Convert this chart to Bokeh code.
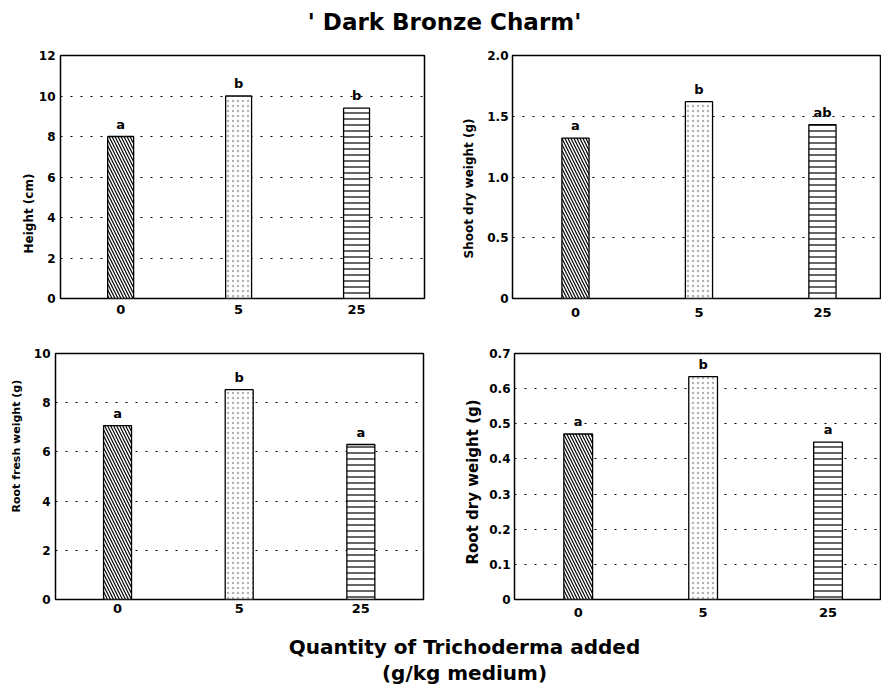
from bokeh.plotting import figure
from bokeh.layouts import column, row
from bokeh.models import Range1d, FixedTicker, Title, ColumnDataSource
from bokeh.core.properties import value, field
from bokeh.embed import file_html
from bokeh.resources import INLINE

# ---------------- data ----------------
TITLE = "' Dark Bronze Charm'"
XLABEL_1 = "Quantity of Trichoderma added"
XLABEL_2 = "(g/kg medium)"
CATEGORIES = ["0", "5", "25"]

HEIGHT_CM = [8.0, 10.0, 9.4]
HEIGHT_LETTERS = ["a", "b", "b"]
HEIGHT_TICKS = [0, 2, 4, 6, 8, 10, 12]
HEIGHT_TICK_LABELS = ["0", "2", "4", "6", "8", "10", "12"]

SHOOT_DW = [1.32, 1.62, 1.43]
SHOOT_LETTERS = ["a", "b", "ab"]
SHOOT_TICKS = [0, 0.5, 1.0, 1.5, 2.0]
SHOOT_TICK_LABELS = ["0", "0.5", "1.0", "1.5", "2.0"]

ROOT_FW = [7.07, 8.53, 6.30]
ROOT_FW_LETTERS = ["a", "b", "a"]
ROOT_FW_TICKS = [0, 2, 4, 6, 8, 10]
ROOT_FW_TICK_LABELS = ["0", "2", "4", "6", "8", "10"]

ROOT_DW = [0.471, 0.634, 0.448]
ROOT_DW_LETTERS = ["a", "b", "a"]
ROOT_DW_TICKS = [0, 0.1, 0.2, 0.3, 0.4, 0.5, 0.6, 0.7]
ROOT_DW_TICK_LABELS = ["0", "0.1", "0.2", "0.3", "0.4", "0.5", "0.6", "0.7"]

# ---------------- styles ----------------
FONT = "DejaVu Sans"
HATCHES = ["\\", ".", "-"]
HATCH_COLORS = ["black", "#b4b4b4", "black"]
HATCH_SCALES = [6, 5, 6]
HATCH_WEIGHTS = [1.2, 0.9, 1.2]
PAGE_W = 881


def panel(vals, letters, ylabel, ticks, tick_labels, x_end, bar_w,
          w, h, bl, br, bt, bb, xstand, ystand, lab_size, lab_offset, lab_stand):
    p = figure(width=w, height=h, min_border_left=bl, min_border_right=br,
               min_border_top=bt, min_border_bottom=bb, title=None,
               x_range=Range1d(0.49, x_end), y_range=Range1d(ticks[0], ticks[-1]),
               output_backend="svg", toolbar_location=None, tools="")
    xs = list(range(1, len(CATEGORIES) + 1))
    src = ColumnDataSource(dict(x=xs, top=vals, letter=letters, hatch=HATCHES,
                                hcolor=HATCH_COLORS, hscale=HATCH_SCALES,
                                hweight=HATCH_WEIGHTS))
    p.vbar(x="x", top="top", bottom=0, width=bar_w, source=src,
           fill_color="white", line_color="black", line_width=1.3,
           hatch_pattern=field("hatch"), hatch_color=field("hcolor"),
           hatch_scale=field("hscale"), hatch_weight=field("hweight"))
    p.text(x="x", y="top", text="letter", source=src, text_align="center",
           text_baseline="bottom", y_offset=-5, text_font=value(FONT),
           text_font_style="bold", text_font_size="13px", text_color="black")

    p.xaxis.ticker = FixedTicker(ticks=xs)
    p.xaxis.major_label_overrides = {x: c for x, c in zip(xs, CATEGORIES)}
    p.xaxis.major_label_standoff = xstand
    p.xaxis.major_label_text_font_size = "13px"
    p.yaxis.ticker = FixedTicker(ticks=ticks)
    p.yaxis.major_label_overrides = {t: l for t, l in zip(ticks, tick_labels)}
    p.yaxis.major_label_standoff = ystand
    p.yaxis.major_label_text_font_size = "12px"
    for ax in (p.xaxis, p.yaxis):
        ax.axis_line_color = None
        ax.major_tick_line_color = None
        ax.minor_tick_line_color = None
        ax.major_tick_out = 0
        ax.major_tick_in = 0
        ax.major_label_text_font = FONT
        ax.major_label_text_font_style = "bold"
        ax.major_label_text_color = "black"
    p.xgrid.grid_line_color = None
    p.ygrid.ticker = FixedTicker(ticks=ticks)
    p.ygrid.grid_line_color = "black"
    p.ygrid.grid_line_dash = "2 8"
    p.ygrid.grid_line_width = 1.2
    p.outline_line_color = "black"
    p.outline_line_width = 1.5
    p.background_fill_color = "white"
    p.border_fill_color = "white"
    t = Title(text=ylabel, align="left", offset=lab_offset, standoff=lab_stand,
              text_font=FONT, text_font_style="bold",
              text_font_size=f"{lab_size}px", text_color="black")
    p.add_layout(t, "left")
    return p


p1 = panel(HEIGHT_CM, HEIGHT_LETTERS, "Height (cm)", HEIGHT_TICKS, HEIGHT_TICK_LABELS,
           3.576, 0.22, 440, 292, 60, 16, 12, 37, 6, 5, 12, 45, 0)
p2 = panel(SHOOT_DW, SHOOT_LETTERS, "Shoot dry weight (g)", SHOOT_TICKS, SHOOT_TICK_LABELS,
           3.47, 0.22, 441, 292, 72, 1, 12, 32, 9, 4, 12, 40, 17)
p3 = panel(ROOT_FW, ROOT_FW_LETTERS, "Root fresh weight (g)", ROOT_FW_TICKS, ROOT_FW_TICK_LABELS,
           3.515, 0.23, 440, 295, 53, 17, 18, 31, 4, 5, 11, 87, 15)
p4 = panel(ROOT_DW, ROOT_DW_LETTERS, "Root dry weight (g)", ROOT_DW_TICKS, ROOT_DW_TICK_LABELS,
           3.42, 0.23, 441, 295, 74, 1, 17, 25, 8, 4, 15, 35, 10)


def text_fig(h, lines, cx, ys, size):
    f = figure(width=PAGE_W, height=h, x_range=Range1d(0, PAGE_W), y_range=Range1d(0, h),
               x_axis_location=None, y_axis_location=None, min_border=0, title=None,
               output_backend="svg", toolbar_location=None, tools="")
    f.grid.visible = False
    f.outline_line_color = None
    f.text(x=[cx] * len(lines), y=ys, text=lines, text_align="center",
           text_baseline="alphabetic", text_font=value(FONT), text_font_style="bold",
           text_font_size=f"{size}px", text_color="black")
    return f


top = text_fig(43, [TITLE], 444, [22], 23)
bottom = text_fig(60, [XLABEL_1, XLABEL_2], 464, [44, 18], 20)

layout = column(top, row(p1, p2), row(p3, p4), bottom)
open("out.html", "w").write(file_html(layout, INLINE))
